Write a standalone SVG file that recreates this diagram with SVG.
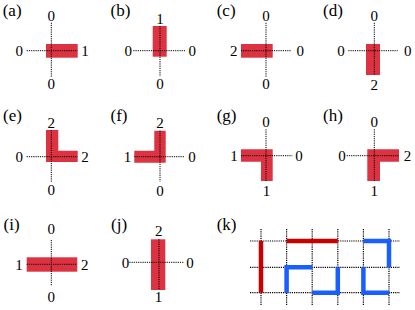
<svg xmlns="http://www.w3.org/2000/svg" width="415" height="310" viewBox="0 0 415 310">
<style>
text{font-family:"Liberation Serif","Times New Roman",serif;fill:#000}
.d{font-size:15px;text-anchor:middle}
.lb{font-size:17px}
.bar{fill:#dc3242}
.dot{stroke:#000;stroke-width:1;stroke-dasharray:1.2 1;fill:none}
.gd{stroke:#000;stroke-width:1.2;stroke-dasharray:1.2 1;fill:none}
.red{stroke:#c80000;stroke-width:4.5;fill:none}
.blue{stroke:#1a5eff;stroke-width:4.5;fill:none;stroke-linejoin:miter}
</style>
<rect width="415" height="310" fill="#fff"/>
<g id="a">
<rect class="bar" x="46" y="44" width="31.7" height="13.7"/>
<path class="dot" d="M26.7 50.7H77.7M51.3 22.7V76.7"/>
<text class="lb" x="2.7" y="15.5">(a)</text>
<text class="d" x="51.3" y="20.7">0</text><text class="d" x="19.3" y="56">0</text><text class="d" x="85" y="56">1</text><text class="d" x="51.3" y="89.3">0</text>
</g>
<g id="b">
<rect class="bar" x="152.7" y="26" width="14" height="30.7"/>
<path class="dot" d="M133.3 50.7H185M160 26V76.7"/>
<text class="lb" x="110.5" y="15.5">(b)</text>
<text class="d" x="160" y="24">1</text><text class="d" x="128.3" y="56">0</text><text class="d" x="192.3" y="56">0</text><text class="d" x="160" y="89.3">0</text>
</g>
<g id="c">
<rect class="bar" x="241" y="44" width="31.7" height="13.7"/>
<path class="dot" d="M241 50.7H291M266 22.7V76.7"/>
<text class="lb" x="216.7" y="15.5">(c)</text>
<text class="d" x="266" y="20.7">0</text><text class="d" x="233.7" y="56">2</text><text class="d" x="300.3" y="56">0</text><text class="d" x="266" y="89.3">0</text>
</g>
<g id="d">
<rect class="bar" x="366" y="44" width="14" height="31"/>
<path class="dot" d="M348.3 50.7H397.7M374.3 22.7V75"/>
<text class="lb" x="323" y="15.5">(d)</text>
<text class="d" x="374.3" y="20.7">0</text><text class="d" x="341" y="56">0</text><text class="d" x="407.7" y="56">0</text><text class="d" x="374.3" y="90">2</text>
</g>
<g id="e">
<path class="bar" d="M46 130H58.3V150.7H77.7V162H46Z"/>
<path class="dot" d="M26.7 156.7H77.7M51.3 130V181.7"/>
<text class="lb" x="3" y="120.5">(e)</text>
<text class="d" x="51.3" y="128.3">2</text><text class="d" x="19.3" y="161.5">0</text><text class="d" x="85" y="161.5">2</text><text class="d" x="51.3" y="195">0</text>
</g>
<g id="f">
<path class="bar" d="M154.3 130.7H165.7V162.7H134.3V150.7H154.3Z"/>
<path class="dot" d="M134.3 156.7H184.3M160 130.7V181.7"/>
<text class="lb" x="110.5" y="120.5">(f)</text>
<text class="d" x="160" y="128.3">2</text><text class="d" x="127.5" y="161.5">1</text><text class="d" x="192" y="161.5">0</text><text class="d" x="160" y="196">0</text>
</g>
<g id="g">
<path class="bar" d="M241 149.3H272.7V181H261V161.7H241Z"/>
<path class="dot" d="M241 155.7H292.3M266 129.3V181"/>
<text class="lb" x="216.7" y="120.5">(g)</text>
<text class="d" x="266" y="126.7">0</text><text class="d" x="234" y="161">1</text><text class="d" x="299" y="161">0</text><text class="d" x="266.5" y="196">1</text>
</g>
<g id="h">
<path class="bar" d="M367.3 149.3H399V161.7H380V181H367.3Z"/>
<path class="dot" d="M346.7 155.7H399M374.3 129.3V181"/>
<text class="lb" x="323" y="120.5">(h)</text>
<text class="d" x="374.3" y="126.7">0</text><text class="d" x="342" y="161">0</text><text class="d" x="407.5" y="161">2</text><text class="d" x="374.3" y="196">1</text>
</g>
<g id="i">
<rect class="bar" x="26.7" y="257.3" width="50.6" height="14.4"/>
<path class="dot" d="M26.7 264.3H77.3M51.3 240V286"/>
<text class="lb" x="3.5" y="230">(i)</text>
<text class="d" x="51.3" y="234.3">0</text><text class="d" x="19" y="270">1</text><text class="d" x="84.7" y="270">2</text><text class="d" x="51.3" y="301.7">0</text>
</g>
<g id="j">
<rect class="bar" x="151" y="239.3" width="14.3" height="50.7"/>
<path class="dot" d="M129.3 262.3H183.3M159 239.3V290"/>
<text class="lb" x="111" y="230">(j)</text>
<text class="d" x="158.7" y="235.7">2</text><text class="d" x="125.5" y="268">0</text><text class="d" x="190" y="268">0</text><text class="d" x="158.5" y="301.7">1</text>
</g>
<g id="k">
<text class="lb" x="216.7" y="230">(k)</text>
<path class="gd" d="M250 241H400M250 267.3H400M250 292.7H400M261 229V305M286.6 229V305M312.2 229V305M337.8 229V305M363.4 229V305M389 229V305"/>
<path class="red" d="M261 241V292.7M286.6 241H337.8"/>
<path class="blue" d="M312.2 267.3H286.6V292.7M312.2 292.7H337.8V267.3M363.4 241H389V267.3M363.4 267.3V292.7H389"/>
</g>
</svg>
